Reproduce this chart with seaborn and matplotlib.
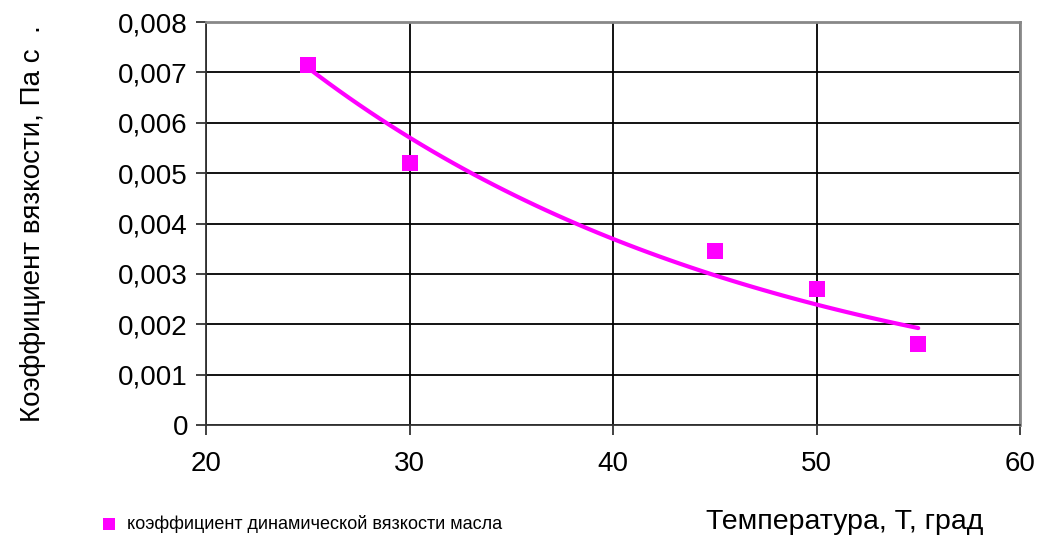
import numpy as np
import pandas as pd
import matplotlib
matplotlib.use("Agg")
import matplotlib.pyplot as plt
import seaborn as sns
from matplotlib.ticker import FuncFormatter, MultipleLocator

# dados
temperatura = [25, 30, 45, 50, 55]
viscosidade = [0.00715, 0.0052, 0.00345, 0.0027, 0.0016]

legenda = "коэффициент динамической вязкости масла"
xlabel = "Температура, Т, град"
ylabel = "Коэффициент вязкости, Па с  ."

sns.set_style("white")
plt.rcParams["font.family"] = ["Liberation Sans", "DejaVu Sans"]
plt.rcParams["text.color"] = "black"
plt.rcParams["xtick.color"] = "black"
plt.rcParams["ytick.color"] = "black"
plt.rcParams["axes.labelcolor"] = "black"

df = pd.DataFrame({"T": temperatura, "mu": viscosidade})

# linha de tendencia exponencial
b, a = np.polyfit(df["T"], np.log(df["mu"]), 1)
t_fit = np.linspace(min(temperatura), max(temperatura), 60)
df_fit = pd.DataFrame({"T": t_fit, "mu": np.exp(a + b * t_fit)})

fig = plt.figure(figsize=(10.37, 5.38), dpi=100)
ax = fig.add_axes([0.1987, 0.21, 0.7849, 0.749])

sns.lineplot(data=df_fit, x="T", y="mu", color="#ff00ff", linewidth=3, ax=ax, zorder=3)
sns.scatterplot(data=df, x="T", y="mu", marker="s", s=130, color="#ff00ff",
                edgecolor="#ff00ff", linewidth=0, ax=ax, zorder=4, label=legenda)

ax.set_xlim(20, 60)
ax.set_ylim(0, 0.008)
ax.xaxis.set_major_locator(MultipleLocator(10))
ax.yaxis.set_major_locator(MultipleLocator(0.001))
ax.yaxis.set_major_formatter(FuncFormatter(lambda v, p: "0" if abs(v) < 1e-12 else f"{v:.3f}".replace(".", ",")))

ax.grid(True, color="black", linewidth=1.3)
ax.set_axisbelow(True)
for s in ["left", "bottom"]:
    ax.spines[s].set_color("#333333")
    ax.spines[s].set_linewidth(1.3)
for s in ["top", "right"]:
    ax.spines[s].set_color("#888888")
    ax.spines[s].set_linewidth(2)

ax.tick_params(axis="both", direction="out", length=7, width=1.3, color="#333333",
               labelsize=20, pad=6, bottom=True, left=True)
ax.tick_params(axis="x", pad=12)

ax.set_xlabel("")
ax.set_ylabel(ylabel, fontsize=20, labelpad=52)
fig.text(0.681, 0.016, xlabel, fontsize=20.5)

ax.legend(loc="lower left", bbox_to_anchor=(-0.152, -0.29), frameon=False,
          fontsize=13, handletextpad=0.0, markerscale=0.75, borderpad=0)

fig.savefig("out.png", dpi=100)
